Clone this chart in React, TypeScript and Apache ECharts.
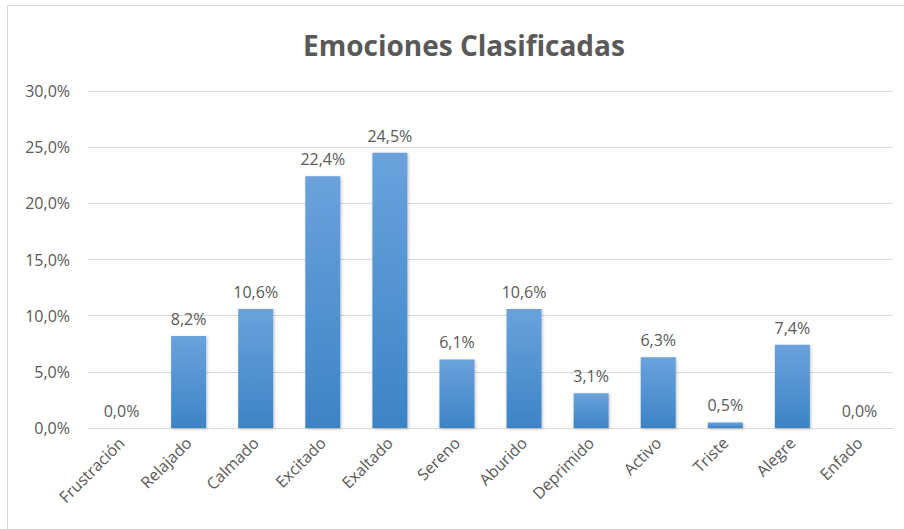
import React, { useEffect, useRef } from "react";
import * as echarts from "echarts";

const categories = ["Frustración", "Relajado", "Calmado", "Excitado", "Exaltado", "Sereno", "Aburido", "Deprimido", "Activo", "Triste", "Alegre", "Enfado"];
const values = [0.0, 8.2, 10.6, 22.4, 24.5, 6.1, 10.6, 3.1, 6.3, 0.5, 7.4, 0.0];
const titleText = "Emociones Clasificadas";

const fmt = (v: number) => v.toFixed(1).replace(".", ",") + "%";

export default function App() {
  const ref = useRef<HTMLDivElement>(null);
  useEffect(() => {
    const chart = echarts.init(ref.current!, null, { renderer: "svg" });
    chart.setOption({
      animation: false,
      backgroundColor: "#ffffff",
      textStyle: { fontFamily: "Open Sans" },
      title: {
        text: titleText,
        left: 298,
        top: 26,
        textStyle: { fontSize: 28, fontWeight: "bold", color: "#595959", fontFamily: "Open Sans" },
      },
      graphic: [
        {
          type: "rect",
          shape: { x: 7.5, y: 5.5, width: 1000, height: 1000 },
          style: { fill: "none", stroke: "#d9d9d9", lineWidth: 1 },
          silent: true,
        },
      ],
      grid: { left: 88, right: 11, top: 91, bottom: 101, containLabel: false },
      xAxis: {
        type: "category",
        data: categories,
        axisTick: { show: false },
        axisLine: { lineStyle: { color: "#d9d9d9", width: 1 } },
        axisLabel: { rotate: 45, fontSize: 16, color: "#595959", margin: 12, interval: 0 },
      },
      yAxis: {
        type: "value",
        min: 0,
        max: 30,
        interval: 5,
        axisLine: { show: false },
        axisTick: { show: false },
        splitLine: { lineStyle: { color: "#d9d9d9", width: 1 } },
        axisLabel: { fontSize: 16, color: "#595959", margin: 18, formatter: (v: number) => fmt(v) },
      },
      series: [
        {
          type: "bar",
          data: values,
          barWidth: 35,
          itemStyle: {
            color: new echarts.graphic.LinearGradient(0, 0, 0, 1, [
              { offset: 0, color: "#6aa2dc" },
              { offset: 1, color: "#3d84c6" },
            ]),
            shadowColor: "rgba(0,0,0,0.25)",
            shadowBlur: 3,
            shadowOffsetX: 1,
            shadowOffsetY: 1,
          },
          label: {
            show: true,
            position: "top",
            distance: 9,
            fontSize: 16,
            color: "#595959",
            formatter: (p: any) => fmt(p.value),
          },
        },
      ],
    });
    return () => chart.dispose();
  }, []);
  return <div ref={ref} style={{ position: "absolute", left: 0, top: 0, width: 904, height: 529 }} />;
}
